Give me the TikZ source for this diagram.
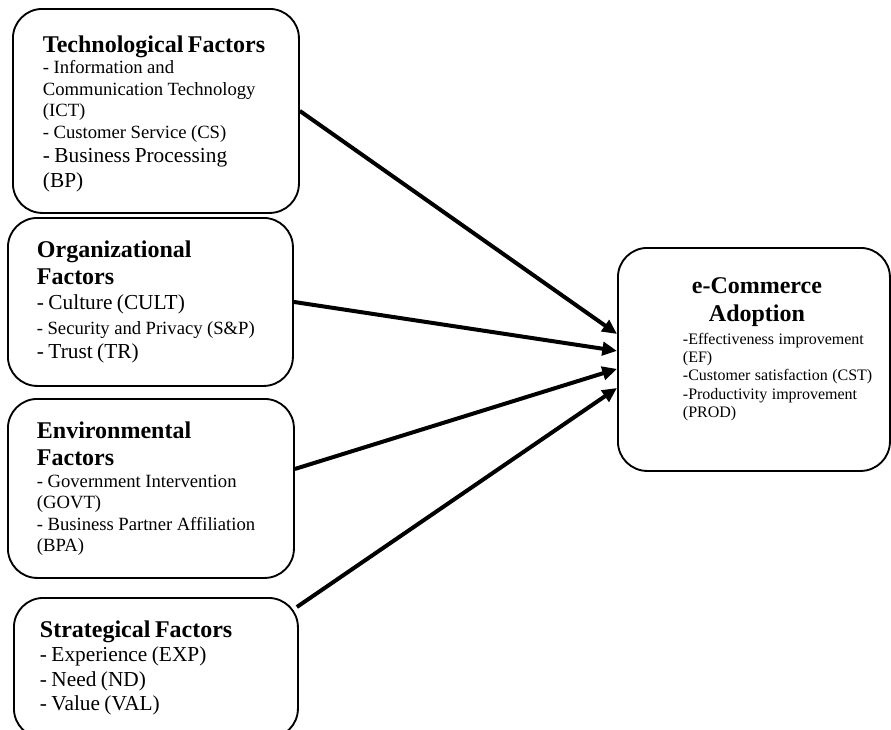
\documentclass[tikz,border=0pt]{standalone}
\usepackage{fontspec}
\setmainfont{Liberation Serif}
\usetikzlibrary{arrows.meta}

\newcommand{\boxhead}{\normalfont\fontsize{18}{20.7}\selectfont\bfseries}
\newcommand{\boxitem}{\normalfont\fontsize{14}{16.1}\selectfont}
\newcommand{\boxitemL}{\normalfont\fontsize{16}{18.4}\selectfont}
\newcommand{\ecitem}{\normalfont\fontsize{12}{13.8}\selectfont}

\begin{document}
\begin{tikzpicture}[
x=0.75pt, y=-0.75pt,
box/.style = {draw, line width=1.4pt, rounded corners=22pt, align=left, inner ysep=0pt, anchor=north west},
arr/.style = {line width=3pt, -{Triangle[length=11pt,width=10pt]}}
]
  \path[use as bounding box, fill=white] (0,0) rectangle (891,729);

  \node[box, text width=169.5pt, inner xsep=22.5pt, minimum height=153pt] (tech) at (12,8)
    {\boxhead\mbox{Technological Factors}\par
     \boxitem - Information and\par
     Communication Technology\par
     (ICT)\par
     - Customer Service (CS)\par
     \boxitemL - Business Processing\par
     (BP)\par\kern-4.5pt};
  \node[box, text width=170.25pt, inner xsep=21.75pt, minimum height=126pt] (org) at (7,217)
    {\boxhead Organizational\par
     Factors\par
     \boxitemL - Culture (CULT)\par
     \boxitem\baselineskip=18.4pt - Security and Privacy (S\&P)\par
     \boxitemL - Trust (TR)\par};
  \node[box, text width=171pt, inner xsep=21.75pt, minimum height=134.25pt] (env) at (7,398)
    {\boxhead Environmental\par
     Factors\par
     \boxitem - Government Intervention\par
     (GOVT)\par
     - Business Partner Affiliation\par
     (BPA)\par};
  \node[box, text width=174pt, inner xsep=19.5pt, minimum height=105pt] (strat) at (13,597)
    {\boxhead Strategical Factors\par
     \boxitemL - Experience (EXP)\par
     - Need (ND)\par
     - Value (VAL)\par};
  \node[box, text width=180pt, inner xsep=12pt, minimum height=167.25pt] (ecom) at (617,247)
    {\leftskip=36.75pt
     \boxhead\makebox[111pt]{e-Commerce}\par
     \makebox[111pt]{Adoption}\par
     \ecitem\baselineskip=17.25pt -Effectiveness improvement\par
     \ecitem (EF)\par
     -Customer satisfaction (CST)\par
     -Productivity improvement\par
     (PROD)\par\kern15pt};

  \draw[arr] (tech.east) -- ([yshift=19.1pt]ecom.west);
  \draw[arr] (org.east) -- ([yshift=6.4pt]ecom.west);
  \draw[arr] ([yshift=14.6pt]env.east) -- ([yshift=-7.1pt]ecom.west);
  \draw[arr] ([xshift=-1.5pt,yshift=-7.5pt]strat.north east) -- ([yshift=-21.4pt]ecom.west);
\end{tikzpicture}
\end{document}
